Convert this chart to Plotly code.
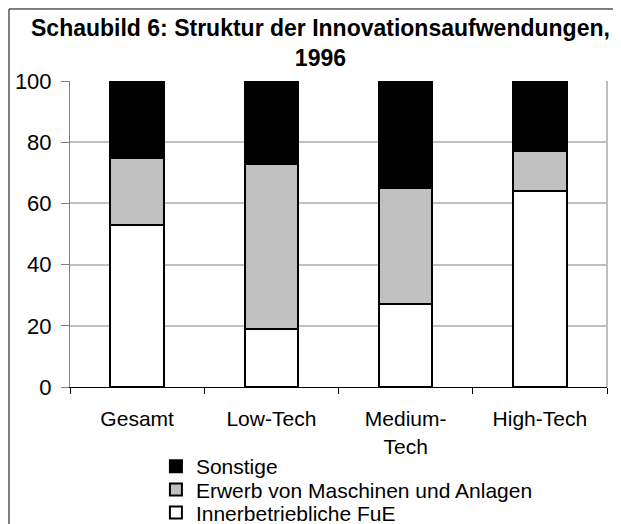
import plotly.graph_objects as go

categories = ["Gesamt", "Low-Tech", "Medium-<br>Tech", "High-Tech"]
fue = [53, 19, 27, 64]
erwerb = [22, 54, 38, 13]
sonstige = [25, 27, 35, 23]
y_ticks = [0, 20, 40, 60, 80, 100]
title_text = "Schaubild 6: Struktur der Innovationsaufwendungen,<br>1996"

FONT = "Liberation Sans, Arial, sans-serif"

fig = go.Figure()
fig.add_trace(go.Bar(x=categories, y=fue, name="Innerbetriebliche FuE", legend="legend3",
                     marker=dict(color="white", line=dict(color="black", width=2))))
fig.add_trace(go.Bar(x=categories, y=erwerb, name="Erwerb von Maschinen und Anlagen", legend="legend2",
                     marker=dict(color="#c0c0c0", line=dict(color="black", width=2))))
fig.add_trace(go.Bar(x=categories, y=sonstige, name="Sonstige", legend="legend",
                     marker=dict(color="black", line=dict(color="black", width=2))))

leg_common = dict(orientation="v", x=0.160, xanchor="left", yanchor="middle",
                  font=dict(size=21, family=FONT, color="black"),
                  bgcolor="rgba(0,0,0,0)", itemclick=False, borderwidth=0)

fig.update_layout(
    width=621, height=524,
    barmode="stack", bargap=0.6,
    paper_bgcolor="white", plot_bgcolor="white",
    margin=dict(l=62, r=22, t=73, b=145, autoexpand=False),
    font=dict(family=FONT, color="black", size=21),
    showlegend=True,
    legend=dict(y=-0.2600, **leg_common),
    legend2=dict(y=-0.3360, **leg_common),
    legend3=dict(y=-0.4110, **leg_common),
    xaxis=dict(showgrid=False, showline=True, linecolor="black", linewidth=1,
               ticks="outside", tickson="boundaries", ticklen=6, tickcolor="black",
               tickfont=dict(size=21), ticklabelstandoff=13),
    yaxis=dict(range=[0, 100], tickvals=y_ticks, showgrid=True, gridcolor="#c0c0c0",
               gridwidth=2, showline=True, linecolor="#808080", linewidth=1,
               ticks="outside", ticklen=8, tickcolor="#808080",
               tickfont=dict(size=22), zeroline=False, ticklabelstandoff=5),
)

fig.add_annotation(text="<b>" + title_text + "</b>", xref="paper", yref="paper",
                   x=0.467, y=1.222, xanchor="center", yanchor="top", showarrow=False,
                   font=dict(family=FONT, size=23, color="black"), align="center")

# right border of plot area (gray)
fig.add_shape(type="line", xref="paper", yref="paper", x0=1, x1=1, y0=0, y1=1,
              line=dict(color="#c0c0c0", width=2))
# outer chart frame (left and top)
fig.add_shape(type="line", xref="paper", yref="paper",
              x0=-0.1136, x1=-0.1136, y0=-0.5, y1=1.2353, line=dict(color="black", width=1))
fig.add_shape(type="line", xref="paper", yref="paper",
              x0=-0.1136, x1=1.1, y0=1.2353, y1=1.2353, line=dict(color="black", width=1))

fig.write_html("out.html")
